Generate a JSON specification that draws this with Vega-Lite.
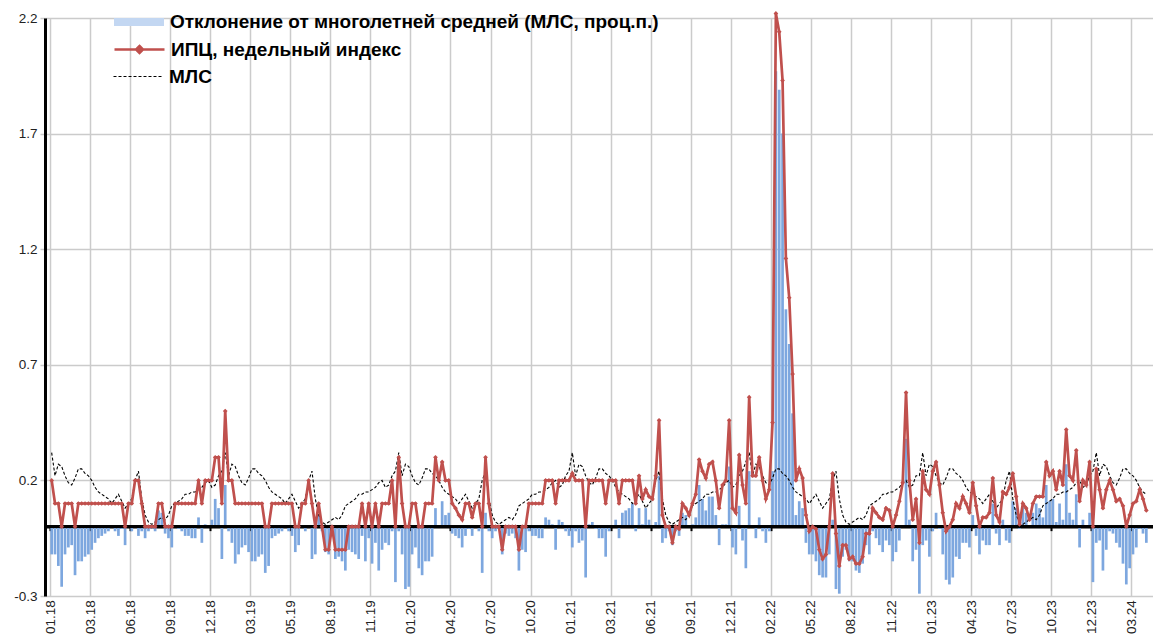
{
"$schema":"https://vega.github.io/schema/vega-lite/v6.json",
"width":1108,"height":578,
"autosize":{"type":"none"},
"padding":{"left":45,"top":18,"right":0,"bottom":42},
"background":"white",
"config":{"view":{"stroke":null},"axis":{"labelFont":"Liberation Sans"},"legend":{"labelFont":"Liberation Sans"}},
"data":{"values":[
{"n":0,"c":0.2,"m":0.32,"b":-0.12},{"n":1,"c":0.1,"m":0.22,"b":-0.12},{"n":2,"c":0.1,"m":0.27,"b":-0.17},{"n":3,"c":0,"m":0.26,"b":-0.26},{"n":4,"c":0.1,"m":0.22,"b":-0.12},{"n":5,"c":0.1,"m":0.19,"b":-0.09},{"n":6,"c":0.1,"m":0.18,"b":-0.08},{"n":7,"c":0,"m":0.21,"b":-0.21},{"n":8,"c":0.1,"m":0.25,"b":-0.15},{"n":9,"c":0.1,"m":0.25,"b":-0.15},
{"n":10,"c":0.1,"m":0.23,"b":-0.13},{"n":11,"c":0.1,"m":0.22,"b":-0.12},{"n":12,"c":0.1,"m":0.2,"b":-0.1},{"n":13,"c":0.1,"m":0.17,"b":-0.07},{"n":14,"c":0.1,"m":0.15,"b":-0.05},{"n":15,"c":0.1,"m":0.14,"b":-0.04},{"n":16,"c":0.1,"m":0.13,"b":-0.03},{"n":17,"c":0.1,"m":0.12,"b":-0.02},{"n":18,"c":0.1,"m":0.1,"b":0},{"n":19,"c":0.1,"m":0.12,"b":-0.02},
{"n":20,"c":0.1,"m":0.14,"b":-0.04},{"n":21,"c":0.1,"m":0.11,"b":-0.01},{"n":22,"c":0,"m":0.08,"b":-0.08},{"n":23,"c":0.1,"m":0.1,"b":0},{"n":24,"c":0.1,"m":0.12,"b":-0.02},{"n":25,"c":0.2,"m":0.2,"b":0},{"n":26,"c":0.2,"m":0.24,"b":-0.04},{"n":27,"c":0.1,"m":0.12,"b":-0.02},{"n":28,"c":0,"m":0.05,"b":-0.05},{"n":29,"c":0,"m":0.02,"b":-0.02},
{"n":30,"c":0,"m":0.01,"b":-0.01},{"n":31,"c":0,"m":0.02,"b":-0.02},{"n":32,"c":0.1,"m":0.03,"b":0.07},{"n":33,"c":0.1,"m":0.04,"b":0.06},{"n":34,"c":0,"m":0.03,"b":-0.03},{"n":35,"c":0,"m":0.05,"b":-0.05},{"n":36,"c":0,"m":0.09,"b":-0.09},{"n":37,"c":0.1,"m":0.1,"b":0},{"n":38,"c":0.1,"m":0.11,"b":-0.01},{"n":39,"c":0.1,"m":0.12,"b":-0.02},
{"n":40,"c":0.1,"m":0.14,"b":-0.04},{"n":41,"c":0.1,"m":0.14,"b":-0.04},{"n":42,"c":0.1,"m":0.15,"b":-0.05},{"n":43,"c":0.1,"m":0.15,"b":-0.05},{"n":44,"c":0.2,"m":0.16,"b":0.04},{"n":45,"c":0.1,"m":0.17,"b":-0.07},{"n":46,"c":0.2,"m":0.19,"b":0.01},{"n":47,"c":0.2,"m":0.2,"b":0},{"n":48,"c":0.2,"m":0.17,"b":0.03},{"n":49,"c":0.3,"m":0.18,"b":0.12},
{"n":50,"c":0.3,"m":0.22,"b":0.08},{"n":51,"c":0.1,"m":0.24,"b":-0.14},{"n":52,"c":0.5,"m":0.32,"b":0.18},{"n":53,"c":0.2,"m":0.22,"b":-0.02},{"n":54,"c":0.2,"m":0.27,"b":-0.07},{"n":55,"c":0.1,"m":0.26,"b":-0.16},{"n":56,"c":0.1,"m":0.22,"b":-0.12},{"n":57,"c":0.1,"m":0.19,"b":-0.09},{"n":58,"c":0.1,"m":0.18,"b":-0.08},{"n":59,"c":0.1,"m":0.21,"b":-0.11},
{"n":60,"c":0.1,"m":0.25,"b":-0.15},{"n":61,"c":0.1,"m":0.25,"b":-0.15},{"n":62,"c":0.1,"m":0.23,"b":-0.13},{"n":63,"c":0.1,"m":0.22,"b":-0.12},{"n":64,"c":0,"m":0.2,"b":-0.2},{"n":65,"c":0,"m":0.17,"b":-0.17},{"n":66,"c":0.1,"m":0.15,"b":-0.05},{"n":67,"c":0.1,"m":0.14,"b":-0.04},{"n":68,"c":0.1,"m":0.13,"b":-0.03},{"n":69,"c":0.1,"m":0.12,"b":-0.02},
{"n":70,"c":0.1,"m":0.1,"b":0},{"n":71,"c":0.1,"m":0.12,"b":-0.02},{"n":72,"c":0.1,"m":0.14,"b":-0.04},{"n":73,"c":0,"m":0.11,"b":-0.11},{"n":74,"c":0,"m":0.08,"b":-0.08},{"n":75,"c":0.1,"m":0.1,"b":0},{"n":76,"c":0.1,"m":0.12,"b":-0.02},{"n":77,"c":0.2,"m":0.2,"b":0},{"n":78,"c":0.1,"m":0.24,"b":-0.14},{"n":79,"c":0,"m":0.12,"b":-0.12},
{"n":80,"c":0.1,"m":0.05,"b":0.05},{"n":81,"c":0,"m":0.02,"b":-0.02},{"n":82,"c":-0.1,"m":0.01,"b":-0.11},{"n":83,"c":-0.1,"m":0.02,"b":-0.12},{"n":84,"c":0,"m":0.03,"b":-0.03},{"n":85,"c":-0.1,"m":0.04,"b":-0.14},{"n":86,"c":-0.1,"m":0.03,"b":-0.13},{"n":87,"c":-0.1,"m":0.05,"b":-0.15},{"n":88,"c":-0.1,"m":0.09,"b":-0.19},{"n":89,"c":0,"m":0.1,"b":-0.1},
{"n":90,"c":0,"m":0.11,"b":-0.11},{"n":91,"c":0,"m":0.12,"b":-0.12},{"n":92,"c":0,"m":0.14,"b":-0.14},{"n":93,"c":0.1,"m":0.14,"b":-0.04},{"n":94,"c":0,"m":0.15,"b":-0.15},{"n":95,"c":0.1,"m":0.15,"b":-0.05},{"n":96,"c":0,"m":0.16,"b":-0.16},{"n":97,"c":0.1,"m":0.17,"b":-0.07},{"n":98,"c":0,"m":0.19,"b":-0.19},{"n":99,"c":0.1,"m":0.2,"b":-0.1},
{"n":100,"c":0.1,"m":0.17,"b":-0.07},{"n":101,"c":0.1,"m":0.18,"b":-0.08},{"n":102,"c":0.2,"m":0.22,"b":-0.02},{"n":103,"c":0,"m":0.24,"b":-0.24},{"n":104,"c":0.3,"m":0.32,"b":-0.02},{"n":105,"c":0.1,"m":0.22,"b":-0.12},{"n":106,"c":0,"m":0.27,"b":-0.27},{"n":107,"c":0,"m":0.26,"b":-0.26},{"n":108,"c":0.1,"m":0.22,"b":-0.12},{"n":109,"c":0.1,"m":0.19,"b":-0.09},
{"n":110,"c":0,"m":0.18,"b":-0.18},{"n":111,"c":0,"m":0.21,"b":-0.21},{"n":112,"c":0.1,"m":0.25,"b":-0.15},{"n":113,"c":0.1,"m":0.25,"b":-0.15},{"n":114,"c":0.1,"m":0.23,"b":-0.13},{"n":115,"c":0.3,"m":0.22,"b":0.08},{"n":116,"c":0.2,"m":0.2,"b":0},{"n":117,"c":0.28,"m":0.17,"b":0.11},{"n":118,"c":0.2,"m":0.15,"b":0.05},{"n":119,"c":0.2,"m":0.14,"b":0.06},
{"n":120,"c":0.1,"m":0.13,"b":-0.03},{"n":121,"c":0.08,"m":0.12,"b":-0.04},{"n":122,"c":0.05,"m":0.1,"b":-0.05},{"n":123,"c":0.03,"m":0.12,"b":-0.09},{"n":124,"c":0.1,"m":0.14,"b":-0.04},{"n":125,"c":0.1,"m":0.11,"b":-0.01},{"n":126,"c":0.04,"m":0.08,"b":-0.04},{"n":127,"c":0.1,"m":0.1,"b":0},{"n":128,"c":0.1,"m":0.12,"b":-0.02},{"n":129,"c":0,"m":0.2,"b":-0.2},
{"n":130,"c":0.3,"m":0.24,"b":0.06},{"n":131,"c":0.1,"m":0.12,"b":-0.02},{"n":132,"c":0,"m":0.05,"b":-0.05},{"n":133,"c":0,"m":0.02,"b":-0.02},{"n":134,"c":0,"m":0.01,"b":-0.01},{"n":135,"c":-0.1,"m":0.02,"b":-0.12},{"n":136,"c":0,"m":0.03,"b":-0.03},{"n":137,"c":0,"m":0.04,"b":-0.04},{"n":138,"c":0,"m":0.03,"b":-0.03},{"n":139,"c":0,"m":0.05,"b":-0.05},
{"n":140,"c":-0.1,"m":0.09,"b":-0.19},{"n":141,"c":0,"m":0.1,"b":-0.1},{"n":142,"c":0,"m":0.11,"b":-0.11},{"n":143,"c":0.1,"m":0.12,"b":-0.02},{"n":144,"c":0.1,"m":0.14,"b":-0.04},{"n":145,"c":0.1,"m":0.14,"b":-0.04},{"n":146,"c":0.1,"m":0.15,"b":-0.05},{"n":147,"c":0.1,"m":0.15,"b":-0.05},{"n":148,"c":0.2,"m":0.16,"b":0.04},{"n":149,"c":0.2,"m":0.17,"b":0.03},
{"n":150,"c":0.2,"m":0.19,"b":0.01},{"n":151,"c":0.1,"m":0.2,"b":-0.1},{"n":152,"c":0.2,"m":0.17,"b":0.03},{"n":153,"c":0.2,"m":0.18,"b":0.02},{"n":154,"c":0.2,"m":0.22,"b":-0.02},{"n":155,"c":0.2,"m":0.24,"b":-0.04},{"n":156,"c":0.23,"m":0.32,"b":-0.09},{"n":157,"c":0.2,"m":0.22,"b":-0.02},{"n":158,"c":0.2,"m":0.27,"b":-0.07},{"n":159,"c":0.2,"m":0.26,"b":-0.06},
{"n":160,"c":0,"m":0.22,"b":-0.22},{"n":161,"c":0.2,"m":0.19,"b":0.01},{"n":162,"c":0.2,"m":0.18,"b":0.02},{"n":163,"c":0.2,"m":0.21,"b":-0.01},{"n":164,"c":0.2,"m":0.25,"b":-0.05},{"n":165,"c":0.2,"m":0.25,"b":-0.05},{"n":166,"c":0.1,"m":0.23,"b":-0.13},{"n":167,"c":0.2,"m":0.22,"b":-0.02},{"n":168,"c":0.2,"m":0.2,"b":0},{"n":169,"c":0.2,"m":0.17,"b":0.03},
{"n":170,"c":0.1,"m":0.15,"b":-0.05},{"n":171,"c":0.2,"m":0.14,"b":0.06},{"n":172,"c":0.2,"m":0.13,"b":0.07},{"n":173,"c":0.2,"m":0.12,"b":0.08},{"n":174,"c":0.2,"m":0.1,"b":0.1},{"n":175,"c":0.1,"m":0.12,"b":-0.02},{"n":176,"c":0.22,"m":0.14,"b":0.08},{"n":177,"c":0.12,"m":0.11,"b":0.01},{"n":178,"c":0.16,"m":0.08,"b":0.08},{"n":179,"c":0.13,"m":0.1,"b":0.03},
{"n":180,"c":0.12,"m":0.12,"b":0},{"n":181,"c":0.22,"m":0.2,"b":0.02},{"n":182,"c":0.46,"m":0.24,"b":0.22},{"n":183,"c":0.05,"m":0.12,"b":-0.07},{"n":184,"c":0,"m":0.05,"b":-0.05},{"n":185,"c":0,"m":0.02,"b":-0.02},{"n":186,"c":-0.07,"m":0.01,"b":-0.08},{"n":187,"c":0,"m":0.02,"b":-0.02},{"n":188,"c":-0.01,"m":0.03,"b":-0.04},{"n":189,"c":0.1,"m":0.04,"b":0.06},
{"n":190,"c":0.08,"m":0.03,"b":0.05},{"n":191,"c":0.05,"m":0.05,"b":0},{"n":192,"c":0.1,"m":0.09,"b":0.01},{"n":193,"c":0.14,"m":0.1,"b":0.04},{"n":194,"c":0.29,"m":0.11,"b":0.18},{"n":195,"c":0.24,"m":0.12,"b":0.12},{"n":196,"c":0.21,"m":0.14,"b":0.07},{"n":197,"c":0.27,"m":0.14,"b":0.13},{"n":198,"c":0.28,"m":0.15,"b":0.13},{"n":199,"c":0.2,"m":0.15,"b":0.05},
{"n":200,"c":0.08,"m":0.16,"b":-0.08},{"n":201,"c":0.18,"m":0.17,"b":0.01},{"n":202,"c":0.2,"m":0.19,"b":0.01},{"n":203,"c":0.46,"m":0.2,"b":0.26},{"n":204,"c":0.08,"m":0.17,"b":-0.09},{"n":205,"c":0.06,"m":0.18,"b":-0.12},{"n":206,"c":0.31,"m":0.22,"b":0.09},{"n":207,"c":0.18,"m":0.24,"b":-0.06},{"n":208,"c":0.1,"m":0.28,"b":-0.18},{"n":209,"c":0.56,"m":0.32,"b":0.24},
{"n":210,"c":0.22,"m":0.22,"b":0},{"n":211,"c":0.22,"m":0.27,"b":-0.05},{"n":212,"c":0.3,"m":0.26,"b":0.04},{"n":213,"c":0.2,"m":0.22,"b":-0.02},{"n":214,"c":0.12,"m":0.19,"b":-0.07},{"n":215,"c":0.16,"m":0.18,"b":-0.02},{"n":216,"c":0.45,"m":0.21,"b":0.24},{"n":217,"c":2.22,"m":0.25,"b":1.97},{"n":218,"c":2.14,"m":0.25,"b":1.89},{"n":219,"c":1.93,"m":0.23,"b":1.7},
{"n":220,"c":1.16,"m":0.22,"b":0.94},{"n":221,"c":0.99,"m":0.2,"b":0.79},{"n":222,"c":0.66,"m":0.17,"b":0.49},{"n":223,"c":0.2,"m":0.15,"b":0.05},{"n":224,"c":0.25,"m":0.14,"b":0.11},{"n":225,"c":0.21,"m":0.13,"b":0.08},{"n":226,"c":0.05,"m":0.12,"b":-0.07},{"n":227,"c":-0.02,"m":0.1,"b":-0.12},{"n":228,"c":0,"m":0.12,"b":-0.12},{"n":229,"c":-0.01,"m":0.14,"b":-0.15},
{"n":230,"c":-0.1,"m":0.11,"b":-0.21},{"n":231,"c":-0.14,"m":0.08,"b":-0.22},{"n":232,"c":-0.12,"m":0.1,"b":-0.22},{"n":233,"c":0,"m":0.12,"b":-0.12},{"n":234,"c":0.23,"m":0.2,"b":0.03},{"n":235,"c":-0.03,"m":0.24,"b":-0.27},{"n":236,"c":-0.17,"m":0.12,"b":-0.29},{"n":237,"c":-0.08,"m":0.05,"b":-0.13},{"n":238,"c":-0.08,"m":0.02,"b":-0.1},{"n":239,"c":-0.14,"m":0.01,"b":-0.15},
{"n":240,"c":-0.13,"m":0.02,"b":-0.15},{"n":241,"c":-0.16,"m":0.03,"b":-0.19},{"n":242,"c":-0.16,"m":0.04,"b":-0.2},{"n":243,"c":-0.13,"m":0.03,"b":-0.16},{"n":244,"c":-0.03,"m":0.05,"b":-0.08},{"n":245,"c":-0.03,"m":0.09,"b":-0.12},{"n":246,"c":0.08,"m":0.1,"b":-0.02},{"n":247,"c":0.06,"m":0.11,"b":-0.05},{"n":248,"c":0.04,"m":0.12,"b":-0.08},{"n":249,"c":0.03,"m":0.14,"b":-0.11},
{"n":250,"c":0.08,"m":0.14,"b":-0.06},{"n":251,"c":0.07,"m":0.15,"b":-0.08},{"n":252,"c":0,"m":0.15,"b":-0.15},{"n":253,"c":0.05,"m":0.16,"b":-0.11},{"n":254,"c":0.11,"m":0.17,"b":-0.06},{"n":255,"c":0.19,"m":0.19,"b":0},{"n":256,"c":0.58,"m":0.2,"b":0.38},{"n":257,"c":0.2,"m":0.17,"b":0.03},{"n":258,"c":0.03,"m":0.18,"b":-0.15},{"n":259,"c":0.12,"m":0.22,"b":-0.1},
{"n":260,"c":-0.07,"m":0.22,"b":-0.29},{"n":261,"c":0.24,"m":0.32,"b":-0.08},{"n":262,"c":0.16,"m":0.22,"b":-0.06},{"n":263,"c":0.14,"m":0.27,"b":-0.13},{"n":264,"c":0.24,"m":0.26,"b":-0.02},{"n":265,"c":0.28,"m":0.22,"b":0.06},{"n":266,"c":0.18,"m":0.19,"b":-0.01},{"n":267,"c":0.06,"m":0.18,"b":-0.12},{"n":268,"c":-0.02,"m":0.21,"b":-0.23},{"n":269,"c":0,"m":0.25,"b":-0.25},
{"n":270,"c":0.03,"m":0.25,"b":-0.22},{"n":271,"c":0.1,"m":0.23,"b":-0.13},{"n":272,"c":0.08,"m":0.22,"b":-0.14},{"n":273,"c":0.13,"m":0.2,"b":-0.07},{"n":274,"c":0.1,"m":0.17,"b":-0.07},{"n":275,"c":0.06,"m":0.15,"b":-0.09},{"n":276,"c":0.19,"m":0.14,"b":0.05},{"n":277,"c":0.09,"m":0.13,"b":-0.04},{"n":278,"c":0,"m":0.12,"b":-0.12},{"n":279,"c":0.04,"m":0.1,"b":-0.06},
{"n":280,"c":0.04,"m":0.12,"b":-0.08},{"n":281,"c":0.06,"m":0.14,"b":-0.08},{"n":282,"c":0.21,"m":0.11,"b":0.1},{"n":283,"c":0.05,"m":0.08,"b":-0.03},{"n":284,"c":0.02,"m":0.1,"b":-0.08},{"n":285,"c":0.15,"m":0.12,"b":0.03},{"n":286,"c":0.14,"m":0.2,"b":-0.06},{"n":287,"c":0.17,"m":0.24,"b":-0.07},{"n":288,"c":0.23,"m":0.12,"b":0.11},{"n":289,"c":0.13,"m":0.05,"b":0.08},
{"n":290,"c":0.01,"m":0.02,"b":-0.01},{"n":291,"c":0.1,"m":0.01,"b":0.09},{"n":292,"c":0.08,"m":0.02,"b":0.06},{"n":293,"c":0.03,"m":0.03,"b":0},{"n":294,"c":0.1,"m":0.04,"b":0.06},{"n":295,"c":0.13,"m":0.03,"b":0.1},{"n":296,"c":0.13,"m":0.05,"b":0.08},{"n":297,"c":0.13,"m":0.09,"b":0.04},{"n":298,"c":0.28,"m":0.1,"b":0.18},{"n":299,"c":0.22,"m":0.11,"b":0.11},
{"n":300,"c":0.24,"m":0.12,"b":0.12},{"n":301,"c":0.16,"m":0.14,"b":0.02},{"n":302,"c":0.24,"m":0.14,"b":0.1},{"n":303,"c":0.18,"m":0.15,"b":0.03},{"n":304,"c":0.42,"m":0.15,"b":0.27},{"n":305,"c":0.22,"m":0.16,"b":0.06},{"n":306,"c":0.2,"m":0.17,"b":0.03},{"n":307,"c":0.33,"m":0.19,"b":0.14},{"n":308,"c":0.11,"m":0.2,"b":-0.09},{"n":309,"c":0.2,"m":0.17,"b":0.03},
{"n":310,"c":0.18,"m":0.18,"b":0},{"n":311,"c":0.28,"m":0.22,"b":0.06},{"n":312,"c":0,"m":0.24,"b":-0.24},{"n":313,"c":0.25,"m":0.32,"b":-0.07},{"n":314,"c":0.16,"m":0.22,"b":-0.06},{"n":315,"c":0.08,"m":0.27,"b":-0.19},{"n":316,"c":0.16,"m":0.26,"b":-0.1},{"n":317,"c":0.2,"m":0.22,"b":-0.02},{"n":318,"c":0.16,"m":0.19,"b":-0.03},{"n":319,"c":0.11,"m":0.18,"b":-0.07},
{"n":320,"c":0.12,"m":0.21,"b":-0.09},{"n":321,"c":0.09,"m":0.25,"b":-0.16},{"n":322,"c":0,"m":0.25,"b":-0.25},{"n":323,"c":0.05,"m":0.23,"b":-0.18},{"n":324,"c":0.1,"m":0.22,"b":-0.12},{"n":325,"c":0.11,"m":0.2,"b":-0.09},{"n":326,"c":0.16,"m":0.17,"b":-0.01},{"n":327,"c":0.12,"m":0.15,"b":-0.03},{"n":328,"c":0.07,"m":0.14,"b":-0.07}
]},
"layer":[
{"mark":{"type":"bar","size":2.7,"color":"#7DA7DF"},
 "encoding":{
  "x":{"field":"n","type":"quantitative","title":null,
       "scale":{"domain":[-0.5,328.5],"nice":false,"zero":false},
       "axis":{"orient":"bottom","offset":-69.36,
               "values":[-0.5,11.5,23.5,35.5,47.5,59.5,71.5,83.5,95.5,107.5,119.5,131.5,143.5,155.5,167.5,179.5,191.5,203.5,215.5,227.5,239.5,251.5,263.5,275.5,287.5,299.5,311.5,323.5],
               "labelExpr":"['01.18','03.18','06.18','09.18','12.18','03.19','05.19','08.19','11.19','01.20','04.20','07.20','10.20','01.21','03.21','06.21','09.21','12.21','02.22','05.22','08.22','11.22','01.23','04.23','07.23','10.23','12.23','03.24'][round((datum.value+0.5)/12)]",
               "grid":true,"gridColor":"#CBCBCB","gridWidth":1.5,
               "domain":true,"domainColor":"black","domainWidth":2.5,
               "ticks":true,"tickColor":"black","tickWidth":2,"tickSize":4,
               "labelAngle":-90,"labelAlign":"right","labelBaseline":"middle","labelPadding":69,
               "labelFontSize":13.5,"labelColor":"#222222","labelOverlap":false,"labelFlush":false,"labelBound":false,"title":null}},
  "y":{"field":"b","type":"quantitative","title":null,
       "scale":{"domain":[-0.3,2.2],"nice":false,"zero":false},
       "axis":{"values":[-0.3,0.2,0.7,1.2,1.7,2.2],
               "labelExpr":"datum.value < 0 ? '-0.3' : format(datum.value, '.1f')",
               "grid":true,"gridColor":"#CBCBCB","gridWidth":1.5,
               "domain":true,"domainColor":"black","domainWidth":3,
               "ticks":true,"tickColor":"#CBCBCB","tickSize":5,"tickWidth":1.5,
               "labelFontSize":13.5,"labelColor":"#222222","labelPadding":3,"title":null}}
 }},
{"mark":{"type":"point","filled":true,"size":0,"color":"#C3D7F2","stroke":"#6E9DD9","strokeWidth":1.5},
 "encoding":{
  "x":{"field":"n","type":"quantitative","title":null},
  "y":{"field":"b","type":"quantitative","title":null},
  "shape":{"datum":"Отклонение от многолетней средней (МЛС, проц.п.)","scale":{"range":["M-1,-0.16H1V0.16H-1Z"]},
          "legend":{"title":null,"orient":"none","legendX":68,"legendY":-22,"padding":0,
                    "symbolSize":2500,"symbolOpacity":1,"symbolStrokeWidth":1.5,"symbolFillColor":"#C3D7F2","symbolStrokeColor":"#6E9DD9",
                    "labelFontSize":19,"labelFontWeight":"bold","labelColor":"black","labelOffset":5,"labelLimit":800}}
 }},
{"mark":{"type":"rule","color":"black","strokeWidth":2.5},"encoding":{"y":{"datum":0}}},
{"mark":{"type":"line","color":"black","strokeWidth":1.1,"strokeDash":[3,2]},
 "encoding":{
  "x":{"field":"n","type":"quantitative","title":null},
  "y":{"field":"m","type":"quantitative","title":null},
  "strokeDash":{"datum":"МЛС","scale":{"range":[[3,2]]},
          "legend":{"title":null,"orient":"none","legendX":68,"legendY":33,"padding":0,
                    "symbolType":"stroke","symbolSize":2500,"symbolStrokeColor":"black","symbolStrokeWidth":1,
                    "labelFontSize":19,"labelFontWeight":"bold","labelColor":"black","labelOffset":5,"labelLimit":800}}
 }},
{"mark":{"type":"line","strokeWidth":2.7},
 "encoding":{
  "x":{"field":"n","type":"quantitative","title":null},
  "y":{"field":"c","type":"quantitative","title":null},
  "stroke":{"datum":"ИПЦ, недельный индекс","scale":{"range":["#C0504D"]},
          "legend":{"title":null,"orient":"none","legendX":68,"legendY":5,"padding":0,
                    "symbolType":"M-1,0H1M0,-0.14L0.14,0L0,0.14L-0.14,0Z","symbolSize":2500,"symbolFillColor":"#C0504D","symbolStrokeWidth":2.5,
                    "labelFontSize":19,"labelFontWeight":"bold","labelColor":"black","labelOffset":5,"labelLimit":800}}
 }},
{"mark":{"type":"point","shape":"diamond","filled":true,"size":22,"color":"#C0504D","opacity":1},
 "encoding":{
  "x":{"field":"n","type":"quantitative","title":null},
  "y":{"field":"c","type":"quantitative","title":null}
 }}
]
}
